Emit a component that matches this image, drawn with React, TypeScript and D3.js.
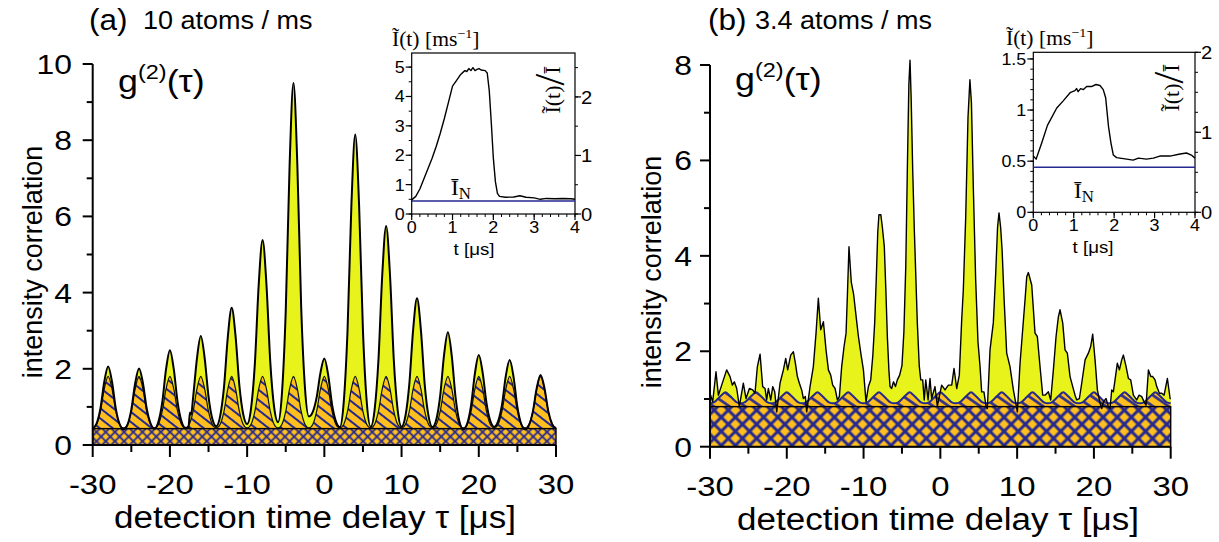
import React from "react";
import * as d3 from "d3";

const SANS = "'Liberation Sans', Arial, Helvetica, sans-serif";
const SERIF = "'Liberation Serif', 'Times New Roman', serif";
const YELLOW = "#E8F31C";
const ORANGE = "#FFBF1F";
const NAVY = "#25288F";

type Pt = [number, number];

// ---------- Panel (a): 10 atoms / ms ----------
const aYellow: Pt[] = [
  [-30, 0.43], [-29.5, 0.56], [-29, 0.96], [-28.5, 1.66], [-28, 2.06], [-27.5, 1.66], [-27, 0.95], [-26.5, 0.54], [-26, 0.41],
  [-25.5, 0.53], [-25, 0.93], [-24.5, 1.62], [-24, 2.01], [-23.5, 1.63], [-23, 0.95], [-22.5, 0.56], [-22, 0.43],
  [-21.5, 0.6], [-21, 1.11], [-20.5, 1.99], [-20, 2.49], [-19.5, 1.99], [-19, 1.12], [-18.5, 0.62], [-18, 0.45],
  [-17.6, 0.47], [-17.4, 0.85], [-17.25, 0.8], [-17, 1.24], [-16.5, 2.27], [-16, 2.86], [-15.5, 2.28], [-15, 1.27], [-14.5, 0.68], [-14, 0.49],
  [-13.5, 0.75], [-13, 1.51], [-12.5, 2.84], [-12, 3.6], [-11.5, 2.86], [-11, 1.55], [-10.5, 0.8], [-10, 0.55],
  [-9.5, 0.95], [-9, 2.13], [-8.5, 4.21], [-8, 5.38], [-7.5, 4.22], [-7, 2.17], [-6.5, 0.99], [-6, 0.6],
  [-5.5, 1.33], [-5, 3.52], [-4.5, 7.34], [-4, 9.5], [-3.5, 7.37], [-3, 3.62], [-2.5, 1.47], [-2, 0.75],
  [-1.5, 0.87], [-1, 1.25], [-0.5, 1.9], [0, 2.27], [0.5, 1.83], [1, 1.06], [1.5, 0.62], [2, 0.47],
  [2.5, 1.1], [3, 2.99], [3.5, 6.28], [4, 8.15], [4.5, 6.29], [5, 3.0], [5.5, 1.11], [6, 0.48],
  [6.5, 0.91], [7, 2.21], [7.5, 4.47], [8, 5.75], [8.5, 4.47], [9, 2.21], [9.5, 0.91], [10, 0.48],
  [10.5, 0.76], [11, 1.59], [11.5, 3.03], [12, 3.85], [12.5, 3.03], [13, 1.58], [13.5, 0.75], [14, 0.47],
  [14.5, 0.67], [15, 1.29], [15.5, 2.36], [16, 2.96], [16.5, 2.34], [17, 1.24], [17.5, 0.61], [18, 0.41],
  [18.5, 0.56], [19, 1.04], [19.5, 1.88], [20, 2.36], [20.5, 1.9], [21, 1.1], [21.5, 0.63], [22, 0.48],
  [22.5, 0.62], [23, 1.05], [23.5, 1.81], [24, 2.23], [24.5, 1.79], [25, 1.0], [25.5, 0.55], [26, 0.41],
  [26.5, 0.52], [27, 0.87], [27.5, 1.49], [28, 1.84], [28.5, 1.5], [29, 0.89], [29.5, 0.55], [30, 0.43],
];
// expected (uncorrelated) level, sampled every 0.5 us from -30 to 30
const aOrangeVal: number[] = [
  0.45, 0.54, 0.88, 1.47, 1.8, 1.47, 0.88, 0.54,
  0.45, 0.54, 0.88, 1.47, 1.8, 1.47, 0.88, 0.54,
  0.45, 0.54, 0.88, 1.47, 1.8, 1.47, 0.88, 0.54,
  0.45, 0.54, 0.88, 1.47, 1.8, 1.47, 0.88, 0.54,
  0.45, 0.54, 0.88, 1.47, 1.8, 1.47, 0.88, 0.54,
  0.45, 0.54, 0.88, 1.47, 1.8, 1.47, 0.88, 0.54,
  0.45, 0.54, 0.88, 1.47, 1.8, 1.47, 0.88, 0.54,
  0.45, 0.54, 0.88, 1.47, 1.8, 1.47, 0.88, 0.54,
  0.45, 0.54, 0.88, 1.47, 1.8, 1.47, 0.88, 0.54,
  0.45, 0.54, 0.88, 1.47, 1.8, 1.47, 0.88, 0.54,
  0.45, 0.54, 0.88, 1.47, 1.8, 1.47, 0.88, 0.54,
  0.45, 0.54, 0.88, 1.47, 1.8, 1.47, 0.88, 0.54,
  0.45, 0.54, 0.88, 1.47, 1.8, 1.47, 0.88, 0.54,
  0.45, 0.54, 0.88, 1.47, 1.8, 1.47, 0.88, 0.54,
  0.45, 0.54, 0.88, 1.47, 1.8, 1.47, 0.88, 0.54,
  0.45,
];
const aBand = 0.43;
const aInsetT: number[] = [0, 0.1, 0.2, 0.3, 0.4, 0.5, 0.6, 0.7, 0.8, 0.9, 1.0, 1.1, 1.2, 1.3, 1.35, 1.4, 1.45, 1.5, 1.55, 1.6, 1.65, 1.7, 1.8, 1.85, 1.9, 1.95, 2.0, 2.05, 2.1, 2.15, 2.3, 2.5, 2.65, 2.8, 3.0, 3.15, 3.3, 3.5, 3.7, 3.9, 4.0];
const aInsetI: number[] = [0.48, 0.6, 0.85, 1.2, 1.55, 1.9, 2.3, 2.75, 3.25, 3.8, 4.35, 4.55, 4.75, 4.88, 4.85, 4.95, 4.88, 4.98, 4.88, 4.92, 4.95, 4.9, 4.88, 4.8, 4.2, 3.1, 1.9, 1.1, 0.7, 0.6, 0.57, 0.58, 0.62, 0.57, 0.55, 0.5, 0.53, 0.52, 0.53, 0.52, 0.5];
const aInsetIN = 0.44;

// ---------- Panel (b): 3.4 atoms / ms ----------
const bYellow: Pt[] = [
  [-30, 1.12], [-29.65, 0.94], [-29.22, 1.57], [-28.91, 1.08], [-28.48, 1.29], [-27.83, 1.61], [-27.39, 1.47], [-27.09, 1.29], [-26.83, 1.36], [-26.52, 1.22],
  [-26.18, 0.84], [-25.66, 1.33], [-25.31, 1.01], [-24.87, 1.22], [-24.44, 1.19], [-24.14, 1.12], [-23.83, 1.68], [-23.48, 1.94], [-23.14, 1.26], [-22.83, 1.22],
  [-22.62, 0.98], [-22.4, 1.22], [-22.09, 0.98], [-21.83, 1.26], [-21.57, 1.15], [-21.31, 0.73], [-20.88, 1.33], [-20.44, 1.61], [-20.14, 1.85], [-19.88, 1.61],
  [-19.49, 1.92], [-19.14, 1.99], [-18.88, 1.75], [-18.62, 1.47], [-18.36, 1.33], [-18.06, 1.19], [-17.84, 1.01], [-17.58, 1.05], [-17.41, 0.73], [-16.97, 1.26],
  [-16.54, 1.68], [-16.19, 2.38], [-15.89, 3.11], [-15.58, 2.45], [-15.23, 2.62], [-14.89, 2.03], [-14.58, 1.61], [-14.28, 1.5], [-14.02, 1.29], [-13.71, 1.22],
  [-13.41, 0.98], [-13.15, 1.05], [-12.85, 1.68], [-12.54, 2.1], [-12.28, 2.38], [-12.1, 3.2], [-11.9, 4.19], [-11.6, 3.45], [-11.3, 3.2], [-10.95, 2.7],
  [-10.67, 2.31], [-10.3, 1.9], [-10.02, 1.61], [-9.68, 0.94], [-9.37, 1.26], [-9.07, 1.4], [-8.8, 1.9], [-8.55, 2.6], [-8.35, 3.5], [-8.15, 4.5],
  [-8.0, 4.86], [-7.75, 4.86], [-7.55, 4.6], [-7.3, 4.2], [-7.1, 3.3], [-6.9, 2.3], [-6.7, 1.6], [-6.55, 1.26], [-6.35, 1.22], [-6.1, 1.36],
  [-5.85, 1.26], [-5.6, 1.4], [-5.3, 1.5], [-5.0, 1.7], [-4.75, 2.4], [-4.5, 3.8], [-4.3, 5.8], [-4.1, 7.6], [-3.95, 8.1], [-3.8, 7.3],
  [-3.6, 5.8], [-3.4, 4.6], [-3.2, 3.6], [-3.0, 2.6], [-2.75, 1.7], [-2.55, 1.4], [-2.3, 1.4], [-2.1, 0.98], [-1.9, 1.4], [-1.6, 0.98],
  [-1.35, 1.43], [-1.13, 1.01], [-0.7, 1.26], [-0.39, 0.85], [0.17, 1.29], [0.61, 1.19], [1.04, 1.29], [1.48, 1.29], [1.78, 1.64], [2.13, 1.22],
  [2.47, 1.5], [2.78, 2.66], [2.99, 3.28], [3.3, 4.8], [3.6, 6.9], [3.85, 7.69], [4.05, 7.2], [4.3, 5.4], [4.6, 3.5], [4.9, 2.2],
  [5.17, 1.68], [5.38, 1.15], [5.68, 1.15], [5.95, 0.84], [6.12, 0.8], [6.47, 2.03], [6.9, 2.6], [7.2, 3.6], [7.45, 4.6], [7.64, 4.9],
  [7.85, 4.6], [8.05, 4.1], [8.3, 3.1], [8.64, 1.96], [9.07, 1.68], [9.51, 1.19], [10.03, 0.73], [10.38, 1.75], [11.03, 3.08], [11.25, 3.56],
  [11.46, 3.65], [11.9, 3.39], [12.33, 2.38], [12.63, 2.31], [12.98, 1.68], [13.33, 1.08], [13.63, 1.08], [14.07, 1.15], [14.37, 0.98], [14.72, 1.61],
  [15.07, 2.31], [15.37, 2.72], [15.59, 2.87], [15.94, 2.59], [16.24, 2.03], [16.54, 1.96], [16.89, 1.47], [17.24, 1.26], [17.54, 1.08], [17.76, 0.98],
  [18.11, 1.01], [18.41, 1.33], [18.85, 1.82], [19.28, 1.96], [19.58, 2.1], [19.84, 2.36], [20.15, 1.82], [20.45, 1.19], [20.8, 0.91], [21.02, 0.8],
  [21.23, 0.94], [21.58, 1.01], [21.88, 0.84], [22.1, 0.8], [22.32, 1.19], [22.53, 1.15], [22.75, 1.4], [23.05, 1.75], [23.32, 1.61], [23.62, 1.82],
  [23.84, 1.92], [24.19, 1.68], [24.49, 1.43], [24.79, 1.4], [25.14, 1.08], [25.57, 0.98], [25.88, 1.08], [26.23, 1.05], [26.53, 0.94], [26.79, 0.87],
  [27.1, 1.61], [27.4, 1.47], [27.66, 1.47], [27.96, 1.4], [28.18, 1.26], [28.53, 1.12], [28.83, 1.12], [29.14, 1.08], [29.57, 1.43], [29.92, 1.01],
  [30, 1.0],
];
const bOrangeVal: number[] = [
  0.91, 0.93, 1.0, 1.08, 1.14, 1.08, 1.0, 0.93,
  0.91, 0.93, 1.0, 1.08, 1.14, 1.08, 1.0, 0.93,
  0.91, 0.93, 1.0, 1.08, 1.14, 1.08, 1.0, 0.93,
  0.91, 0.93, 1.0, 1.08, 1.14, 1.08, 1.0, 0.93,
  0.91, 0.93, 1.0, 1.08, 1.14, 1.08, 1.0, 0.93,
  0.91, 0.93, 1.0, 1.08, 1.14, 1.08, 1.0, 0.93,
  0.91, 0.93, 1.0, 1.08, 1.14, 1.08, 1.0, 0.93,
  0.91, 0.93, 1.0, 1.08, 1.14, 1.08, 1.0, 0.93,
  0.91, 0.93, 1.0, 1.08, 1.14, 1.08, 1.0, 0.93,
  0.91, 0.93, 1.0, 1.08, 1.14, 1.08, 1.0, 0.93,
  0.91, 0.93, 1.0, 1.08, 1.14, 1.08, 1.0, 0.93,
  0.91, 0.93, 1.0, 1.08, 1.14, 1.08, 1.0, 0.93,
  0.91, 0.93, 1.0, 1.08, 1.14, 1.08, 1.0, 0.93,
  0.91, 0.93, 1.0, 1.08, 1.14, 1.08, 1.0, 0.93,
  0.91, 0.93, 1.0, 1.08, 1.14, 1.08, 1.0, 0.93,
  0.91,
];
const bBand = 0.84;
const bInsetT: number[] = [0, 0.07, 0.21, 0.35, 0.58, 0.74, 0.91, 1.03, 1.07, 1.11, 1.17, 1.24, 1.32, 1.44, 1.55, 1.65, 1.73, 1.79, 1.86, 1.92, 1.98, 2.06, 2.31, 2.47, 2.6, 2.8, 2.97, 3.13, 3.38, 3.63, 3.79, 3.91, 4.0];
const bInsetI: number[] = [0.55, 0.52, 0.68, 0.85, 1.02, 1.09, 1.17, 1.19, 1.21, 1.18, 1.21, 1.2, 1.23, 1.23, 1.25, 1.24, 1.2, 1.12, 0.84, 0.68, 0.56, 0.535, 0.52, 0.51, 0.53, 0.52, 0.53, 0.55, 0.55, 0.57, 0.58, 0.56, 0.53];
const bInsetIN = 0.44;

// ---------- axis labels ----------
const mainXTickLabels = [-30, -20, -10, 0, 10, 20, 30];
const aYTickLabels = [0, 2, 4, 6, 8, 10];
const bYTickLabels = [0, 2, 4, 6, 8];
const aInsetLeftLabels = [0, 1, 2, 3, 4, 5];
const bInsetLeftLabels = [0, 0.5, 1, 1.5];
const insetRightLabels = [0, 1, 2];
const insetXLabels = [0, 1, 2, 3, 4];

const orangeTau = d3.range(0, 121).map((i) => -30 + i * 0.5);

// text, widened horizontally like the original figure's lettering
function ST(props: { x: number; y: number; sx?: number; anchor?: string; size: number; family?: string; children: React.ReactNode }) {
  const sx = props.sx ?? 1.15;
  return (
    <text transform={`translate(${props.x},${props.y}) scale(${sx},1)`} textAnchor={props.anchor || "start"} fontSize={props.size} fontFamily={props.family || SANS}>
      {props.children}
    </text>
  );
}

type MainProps = {
  x0: number; x1: number; yTop: number; yBot: number; yMax: number;
  yellow: Pt[]; smooth: boolean; orangeVal: number[]; band: number;
  hatch: string; cross: string; yellowW: number; orangeStroke: string; orangeW: number;
  yTickLabels: number[]; labelRight: number;
  tag: string; rate: string; tagX: number; rateX: number;
  gX: number; gY: number; yTitleX: number; yTitleY: number; xTitleX: number;
};

function MainPanel(p: MainProps) {
  const x = d3.scaleLinear().domain([-30, 30]).range([p.x0, p.x1]);
  const y = d3.scaleLinear().domain([0, p.yMax]).range([p.yBot, p.yTop]);
  const curve = p.smooth ? d3.curveMonotoneX : d3.curveLinear;
  const yArea = d3.area<Pt>().x((d) => x(d[0])).y0(y(0)).y1((d) => y(d[1])).curve(curve);
  const yLine = d3.line<Pt>().x((d) => x(d[0])).y((d) => y(d[1])).curve(curve);
  const oPts: Pt[] = orangeTau.map((t, i) => [t, p.orangeVal[i]]);
  const oArea = d3.area<Pt>().x((d) => x(d[0])).y0(y(p.band)).y1((d) => y(d[1])).curve(d3.curveMonotoneX);
  const oLine = d3.line<Pt>().x((d) => x(d[0])).y((d) => y(d[1])).curve(d3.curveMonotoneX);
  const xMinor = [-25, -15, -5, 5, 15, 25];
  const yMinor = d3.range(1, p.yMax, 2);
  return (
    <g>
      <path d={yArea(p.yellow) || ""} fill={YELLOW} />
      <path d={oArea(oPts) || ""} fill={`url(#${p.hatch})`} />
      <path d={oLine(oPts) || ""} fill="none" stroke={p.orangeStroke} strokeWidth={p.orangeW} />
      <rect x={x(-30)} y={y(p.band)} width={x(30) - x(-30)} height={y(0) - y(p.band)} fill={`url(#${p.cross})`} stroke="#000" strokeWidth={1.4} />
      <path d={yLine(p.yellow) || ""} fill="none" stroke="#000" strokeWidth={p.yellowW} strokeLinejoin="round" />
      <line x1={p.x0} x2={p.x0} y1={y(0) + 1} y2={y(p.yMax)} stroke="#000" strokeWidth={2} />
      <line x1={p.x0} x2={p.x1} y1={y(0)} y2={y(0)} stroke="#000" strokeWidth={2} />
      {p.yTickLabels.map((v) => (
        <g key={"yt" + v}>
          <line x1={p.x0 - 10} x2={p.x0} y1={y(v)} y2={y(v)} stroke="#000" strokeWidth={2} />
          <ST x={p.labelRight} y={y(v) + 10} anchor="end" size={27} sx={1.18}>{v}</ST>
        </g>
      ))}
      {yMinor.map((v) => (
        <line key={"ym" + v} x1={p.x0 - 6} x2={p.x0} y1={y(v)} y2={y(v)} stroke="#000" strokeWidth={2} />
      ))}
      {mainXTickLabels.map((v) => (
        <g key={"xt" + v}>
          <line x1={x(v)} x2={x(v)} y1={y(0)} y2={y(0) + 12} stroke="#000" strokeWidth={2} />
          <ST x={x(v)} y={y(0) + 49} anchor="middle" size={27} sx={1.22}>{v}</ST>
        </g>
      ))}
      {xMinor.map((v) => (
        <line key={"xm" + v} x1={x(v)} x2={x(v)} y1={y(0)} y2={y(0) + 7} stroke="#000" strokeWidth={2} />
      ))}
      <ST x={p.xTitleX} y={p.yBot + 83} anchor="middle" size={31} sx={1.13}>detection time delay τ [μs]</ST>
      <text transform={`translate(${p.yTitleX},${p.yTitleY}) rotate(-90)`} textAnchor="middle" fontSize={27} fontFamily={SANS}>intensity correlation</text>
      <ST x={p.tagX} y={30} size={30} sx={1.05}>{p.tag}</ST>
      <ST x={p.rateX} y={29} size={25} sx={1.08}>{p.rate}</ST>
      <ST x={p.gX} y={p.gY} size={32} sx={1.12}>
        g<tspan fontSize={21} dy={-13}>(2)</tspan><tspan dy={13}>(τ)</tspan>
      </ST>
    </g>
  );
}

type InsetProps = {
  l: number; r: number; t: number; b: number; leftMax: number; rightMax: number;
  ts: number[]; is: number[]; iN: number;
  leftLabels: number[]; leftMinor: number; rightMinor: number;
  titleX: number; titleY: number; ratioX: number; ratioY: number;
  inX: number; inY: number; tLabelX: number;
};

function Inset(p: InsetProps) {
  const x = d3.scaleLinear().domain([0, 4]).range([p.l, p.r]);
  const yl = d3.scaleLinear().domain([0, p.leftMax]).range([p.b, p.t]);
  const yr = d3.scaleLinear().domain([0, p.rightMax]).range([p.b, p.t]);
  const pts: Pt[] = p.ts.map((t, i) => [t, p.is[i]]);
  const line = d3.line<Pt>().x((d) => x(d[0])).y((d) => yl(d[1]));
  const leftMinor = d3.range(0, p.leftMax + 1e-9, p.leftMinor);
  const rightMinor = d3.range(0, p.rightMax + 1e-9, p.rightMinor);
  const xMinor = d3.range(0, 4.0001, 0.2);
  return (
    <g>
      <rect x={p.l} y={p.t} width={p.r - p.l} height={p.b - p.t} fill="#fff" stroke="#000" strokeWidth={1.2} />
      {leftMinor.map((v, i) => (
        <line key={"lm" + i} x1={p.l - 3} x2={p.l} y1={yl(v)} y2={yl(v)} stroke="#000" strokeWidth={1} />
      ))}
      {p.leftLabels.map((v) => (
        <g key={"ll" + v}>
          <line x1={p.l - 6} x2={p.l} y1={yl(v)} y2={yl(v)} stroke="#000" strokeWidth={1.2} />
          <ST x={p.l - 7} y={yl(v) + 6} anchor="end" size={16} sx={1.12}>{v}</ST>
        </g>
      ))}
      {rightMinor.map((v, i) => (
        <line key={"rm" + i} x1={p.r} x2={p.r + 3} y1={yr(v)} y2={yr(v)} stroke="#000" strokeWidth={1} />
      ))}
      {insetRightLabels.map((v) => (
        <g key={"rl" + v}>
          <line x1={p.r} x2={p.r + 6} y1={yr(v)} y2={yr(v)} stroke="#000" strokeWidth={1.2} />
          <ST x={p.r + 6} y={yr(v) + 7} size={18} sx={1.12}>{v}</ST>
        </g>
      ))}
      {xMinor.map((v, i) => (
        <line key={"xm" + i} x1={x(v)} x2={x(v)} y1={p.b} y2={p.b + 3} stroke="#000" strokeWidth={1} />
      ))}
      {insetXLabels.map((v) => (
        <g key={"xl" + v}>
          <line x1={x(v)} x2={x(v)} y1={p.b} y2={p.b + 6} stroke="#000" strokeWidth={1.2} />
          <ST x={x(v)} y={p.b + 19} anchor="middle" size={16} sx={1.12}>{v}</ST>
        </g>
      ))}
      <line x1={p.l} x2={p.r} y1={yl(p.iN)} y2={yl(p.iN)} stroke={NAVY} strokeWidth={1.6} />
      <path d={line(pts) || ""} fill="none" stroke="#000" strokeWidth={1.4} strokeLinejoin="round" />
      <ST x={p.titleX} y={p.titleY} size={20} family={SERIF} sx={1.08}>
        Ĩ(t) [ms<tspan fontSize={13} dy={-8}>−1</tspan><tspan dy={8}>]</tspan>
      </ST>
      <text transform={`translate(${p.ratioX},${p.ratioY}) rotate(-90)`} textAnchor="middle" fontSize={22} fontFamily={SERIF}>
        Ĩ(t)<tspan fontSize={42} dy={4}>/</tspan><tspan dy={-4}>Ī</tspan>
      </text>
      <ST x={p.inX} y={p.inY} size={22} family={SERIF} sx={1.05}>
        Ī<tspan fontSize={16} dy={4}>N</tspan>
      </ST>
      <ST x={p.tLabelX} y={p.b + 41} anchor="middle" size={17} sx={1.1}>t [μs]</ST>
    </g>
  );
}

export default function App() {
  return (
    <svg width={1219} height={542} viewBox="0 0 1219 542" style={{ display: "block", position: "absolute", left: 0, top: 0, background: "#fff" }}>
      <defs>
        <pattern id="hatchA" patternUnits="userSpaceOnUse" width={8} height={8} patternTransform="rotate(38)">
          <rect width={8} height={8} fill={ORANGE} />
          <line x1={0} x2={8} y1={4} y2={4} stroke={NAVY} strokeWidth={2} />
        </pattern>
        <pattern id="crossA" patternUnits="userSpaceOnUse" width={6.5} height={6.5} patternTransform="rotate(45)">
          <rect width={6.5} height={6.5} fill={ORANGE} />
          <line x1={0} x2={6.5} y1={3.25} y2={3.25} stroke={NAVY} strokeWidth={1.8} />
          <line x1={3.25} x2={3.25} y1={0} y2={6.5} stroke={NAVY} strokeWidth={1.8} />
        </pattern>
        <pattern id="hatchB" patternUnits="userSpaceOnUse" width={9} height={9} patternTransform="rotate(35)">
          <rect width={9} height={9} fill={ORANGE} />
          <line x1={0} x2={9} y1={4.5} y2={4.5} stroke={NAVY} strokeWidth={2.6} />
        </pattern>
        <pattern id="crossB" patternUnits="userSpaceOnUse" width={10} height={10} patternTransform="rotate(45)">
          <rect width={10} height={10} fill={ORANGE} />
          <line x1={0} x2={10} y1={5} y2={5} stroke={NAVY} strokeWidth={3} />
          <line x1={5} x2={5} y1={0} y2={10} stroke={NAVY} strokeWidth={3} />
        </pattern>
      </defs>
      <MainPanel
        x0={92.7} x1={556} yTop={64} yBot={445} yMax={10}
        yellow={aYellow} smooth={true} orangeVal={aOrangeVal} band={aBand}
        hatch="hatchA" cross="crossA" yellowW={2} orangeStroke="#111" orangeW={1.2}
        yTickLabels={aYTickLabels} labelRight={72}
        tag="(a)" rate="10 atoms / ms" tagX={89} rateX={143}
        gX={118} gY={92} yTitleX={42} yTitleY={262} xTitleX={315}
      />
      <MainPanel
        x0={710} x1={1170.7} yTop={65} yBot={446.7} yMax={8}
        yellow={bYellow} smooth={false} orangeVal={bOrangeVal} band={bBand}
        hatch="hatchB" cross="crossB" yellowW={1.4} orangeStroke={NAVY} orangeW={2}
        yTickLabels={bYTickLabels} labelRight={692}
        tag="(b)" rate="3.4 atoms / ms" tagX={708} rateX={755}
        gX={735} gY={90} yTitleX={661} yTitleY={272} xTitleX={938}
      />
      <Inset
        l={411.7} r={575} t={53} b={214} leftMax={5.48} rightMax={2.75}
        ts={aInsetT} is={aInsetI} iN={aInsetIN}
        leftLabels={aInsetLeftLabels} leftMinor={0.5} rightMinor={0.5}
        titleX={392} titleY={46} ratioX={560} ratioY={90}
        inX={451} inY={195} tLabelX={474}
      />
      <Inset
        l={1033.3} r={1195} t={52.3} b={212.3} leftMax={1.565} rightMax={2}
        ts={bInsetT} is={bInsetI} iN={bInsetIN}
        leftLabels={bInsetLeftLabels} leftMinor={0.1} rightMinor={0.25}
        titleX={1006} titleY={45} ratioX={1179} ratioY={88}
        inX={1074} inY={198} tLabelX={1093}
      />
    </svg>
  );
}
